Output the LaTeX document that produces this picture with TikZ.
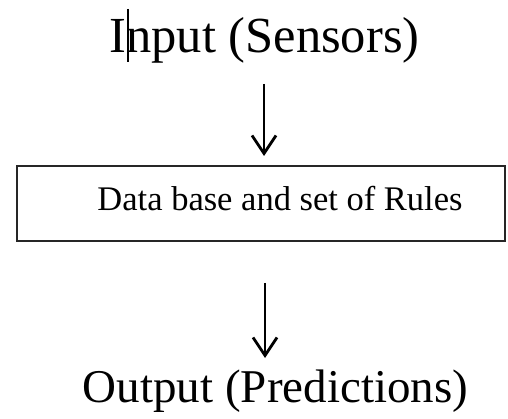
\documentclass[tikz,border=0pt]{standalone}
\usepackage{fontspec}
\setmainfont{Liberation Serif}
\usetikzlibrary{arrows.meta}
\begin{document}
\begin{tikzpicture}[x=1pt,y=-1pt,
  bigtext/.style={inner sep=0pt,anchor=base},
  boxtext/.style={inner sep=0pt,anchor=base,font=\fontsize{34.5}{38}\selectfont},
  flow/.style={line width=2.2pt,-{Straight Barb[length=18pt,width=24pt,line width=2.8pt]}},
  rulebox/.style={draw=black!85,line width=1.6pt}]
  \useasboundingbox (0,0) rectangle (508,419);
  % title and result lines
  \node[bigtext,font=\fontsize{50.5}{54}\selectfont] (in) at (264.5,53) {Input (Sensors)};
  \node[bigtext,font=\fontsize{47}{51}\selectfont] (out) at (275.5,402) {Output (Predictions)};
  % rule base box
  \draw[rulebox] (17,166) rectangle (505,241);
  \node[boxtext] (db) at (280,211) {Data base and set of Rules};
  % text caret
  \draw[line width=2.4pt] (127.7,9) -- (127.7,62);
  % arrows
  \coordinate (a1s) at (264,84);
  \coordinate (a1e) at (264,156);
  \coordinate (a2s) at (265,283);
  \coordinate (a2e) at (265,358);
  \draw[flow] (a1s) -- (a1e);
  \draw[flow] (a2s) -- (a2e);
\end{tikzpicture}
\end{document}
